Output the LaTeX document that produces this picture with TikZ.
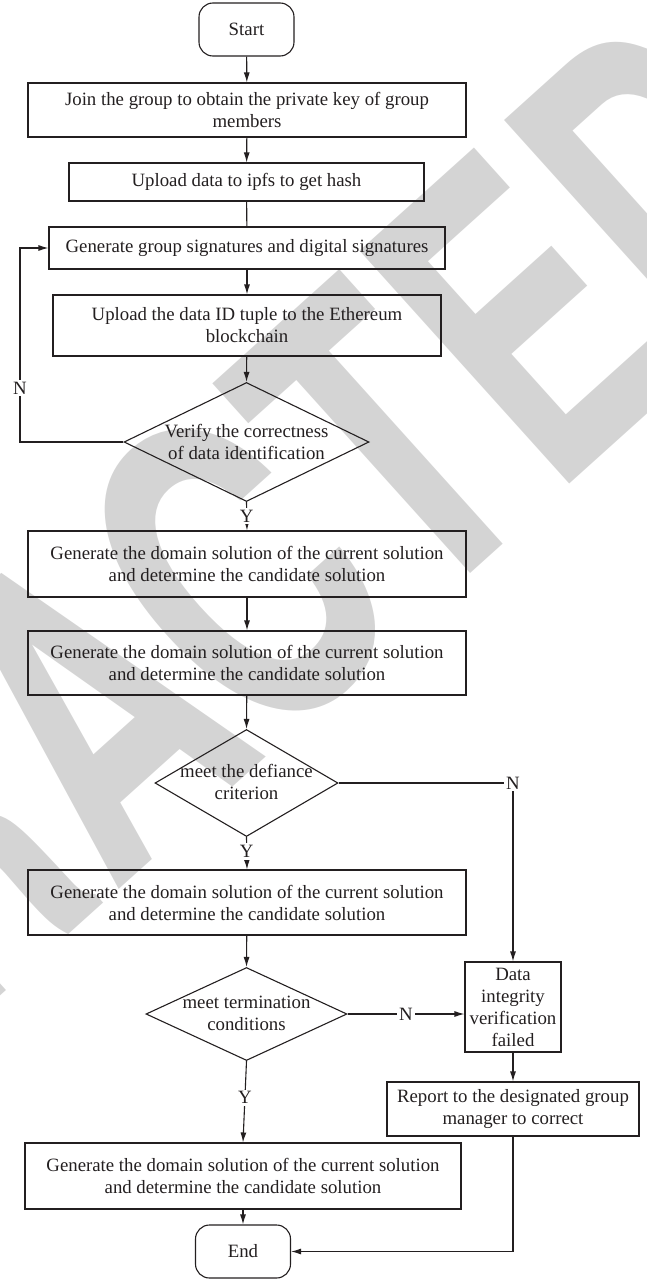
\documentclass[tikz,border=0pt]{standalone}
\usepackage{fontspec}
\setmainfont{Liberation Serif}
\newfontfamily\wmfont{TeX Gyre Heros}
\usetikzlibrary{arrows.meta,shapes.geometric}
\definecolor{wm}{gray}{0.83}
\definecolor{ink}{HTML}{231F20}
\newcommand\fs{\fontsize{18.8}{22}\selectfont}
\begin{document}
\begin{tikzpicture}[x=1pt,y=-1pt,
  box/.style={draw=ink, line width=1.1pt, rectangle, inner sep=0pt, align=center, text=ink, font=\fs},
  term/.style={box, rounded corners=14pt, minimum width=95pt, minimum height=53pt},
  dia/.style={draw=ink, line width=1.1pt, diamond, inner sep=0pt},
  txt/.style={inner sep=0pt, align=center, text=ink, font=\fs},
  lab/.style={fill=white, inner sep=2pt, text=ink, font=\fs},
  arr/.style={draw=ink, line width=1.1pt, -{Latex[length=10pt,width=6pt]}},
  ln/.style={draw=ink, line width=1.1pt},
  wmark/.style={inner sep=0pt, text=wm, rotate=42, xscale=0.68, font=\wmfont\bfseries\fontsize{430}{430}\selectfont}]
\useasboundingbox (0,0) rectangle (646,1280);
% watermark
\node[wmark] (wm) at (83,711) {RETRACTED};
% nodes
\node[term] (start) at (246.5,29.5) {Start};
\node[box, minimum width=438pt, minimum height=54pt] (join) at (247,110) {Join the group to obtain the private key of group\\members};
\node[box, minimum width=355pt, minimum height=38pt] (ipfs) at (246.5,182) {Upload data to ipfs to get hash};
\node[box, minimum width=396pt, minimum height=42pt] (sig) at (247,248) {Generate group signatures and digital signatures};
\node[box, minimum width=388pt, minimum height=61pt] (tuple) at (247,325.5) {Upload the data ID tuple to the Ethereum\\blockchain};
\node[dia, minimum width=245pt, minimum height=119pt] (verify) at (246.5,442) {};
\node[txt] (verifyt) at (246.5,442) {Verify the correctness\\of data identification};
\node[box, minimum width=438pt, minimum height=66pt] (dom1) at (247,564) {Generate the domain solution of the current solution\\and determine the candidate solution};
\node[box, minimum width=438pt, minimum height=64pt] (dom2) at (247,663) {Generate the domain solution of the current solution\\and determine the candidate solution};
\node[dia, minimum width=183pt, minimum height=107pt] (defy) at (246.5,783) {};
\node[txt] (defyt) at (246.5,782) {meet the defiance\\criterion};
\node[box, minimum width=438pt, minimum height=65pt] (dom3) at (247,902.5) {Generate the domain solution of the current solution\\and determine the candidate solution};
\node[dia, minimum width=201pt, minimum height=93pt] (termd) at (246.5,1014) {};
\node[txt] (termt) at (246.5,1013) {meet termination\\conditions};
\node[box, minimum width=96pt, minimum height=90pt] (fail) at (513,1007) {Data\\integrity\\verification\\failed};
\node[box, minimum width=252pt, minimum height=54pt] (report) at (513,1109) {Report to the designated group\\manager to correct};
\node[box, minimum width=436pt, minimum height=66pt] (dom4) at (243,1176) {Generate the domain solution of the current solution\\and determine the candidate solution};
\node[term] (end) at (243,1251.5) {End};
% coordinates
\coordinate (lpA) at (20,442);
\coordinate (lpB) at (sig.west -| lpA);
% connectors
\draw[arr] (start) -- (join);
\draw[arr] (join) -- (ipfs);
\draw[ln] (ipfs) -- (sig);
\draw[arr] (sig) -- (tuple);
\draw[arr] (tuple) -- (verify.north);
\draw[arr] (verify.west) -- (lpA) -- node[lab, pos=0.277] (n1) {N} (lpB) -- (sig.west);
\draw[arr] (verify.south) -- node[lab, pos=0.5] (y1) {Y} (dom1.north);
\draw[arr] (dom1) -- (dom2);
\draw[arr] (dom2) -- (defy.north);
\draw[arr] (defy.east) -| node[lab, pos=0.5] (n2) {N} (fail.north);
\draw[arr] (defy.south) -- node[lab, pos=0.45] (y2) {Y} (dom3.north);
\draw[arr] (dom3) -- (termd.north);
\draw[arr] (termd.east) -- node[lab, pos=0.5] (n3) {N} (termd.east -| fail.west);
\draw[arr] (termd.south) -- node[lab, pos=0.45] (y3) {Y} (dom4.north);
\draw[arr] (fail) -- (report);
\draw[arr] (report.south) |- (end.east);
\draw[arr] (dom4) -- (end);
\end{tikzpicture}
\end{document}
